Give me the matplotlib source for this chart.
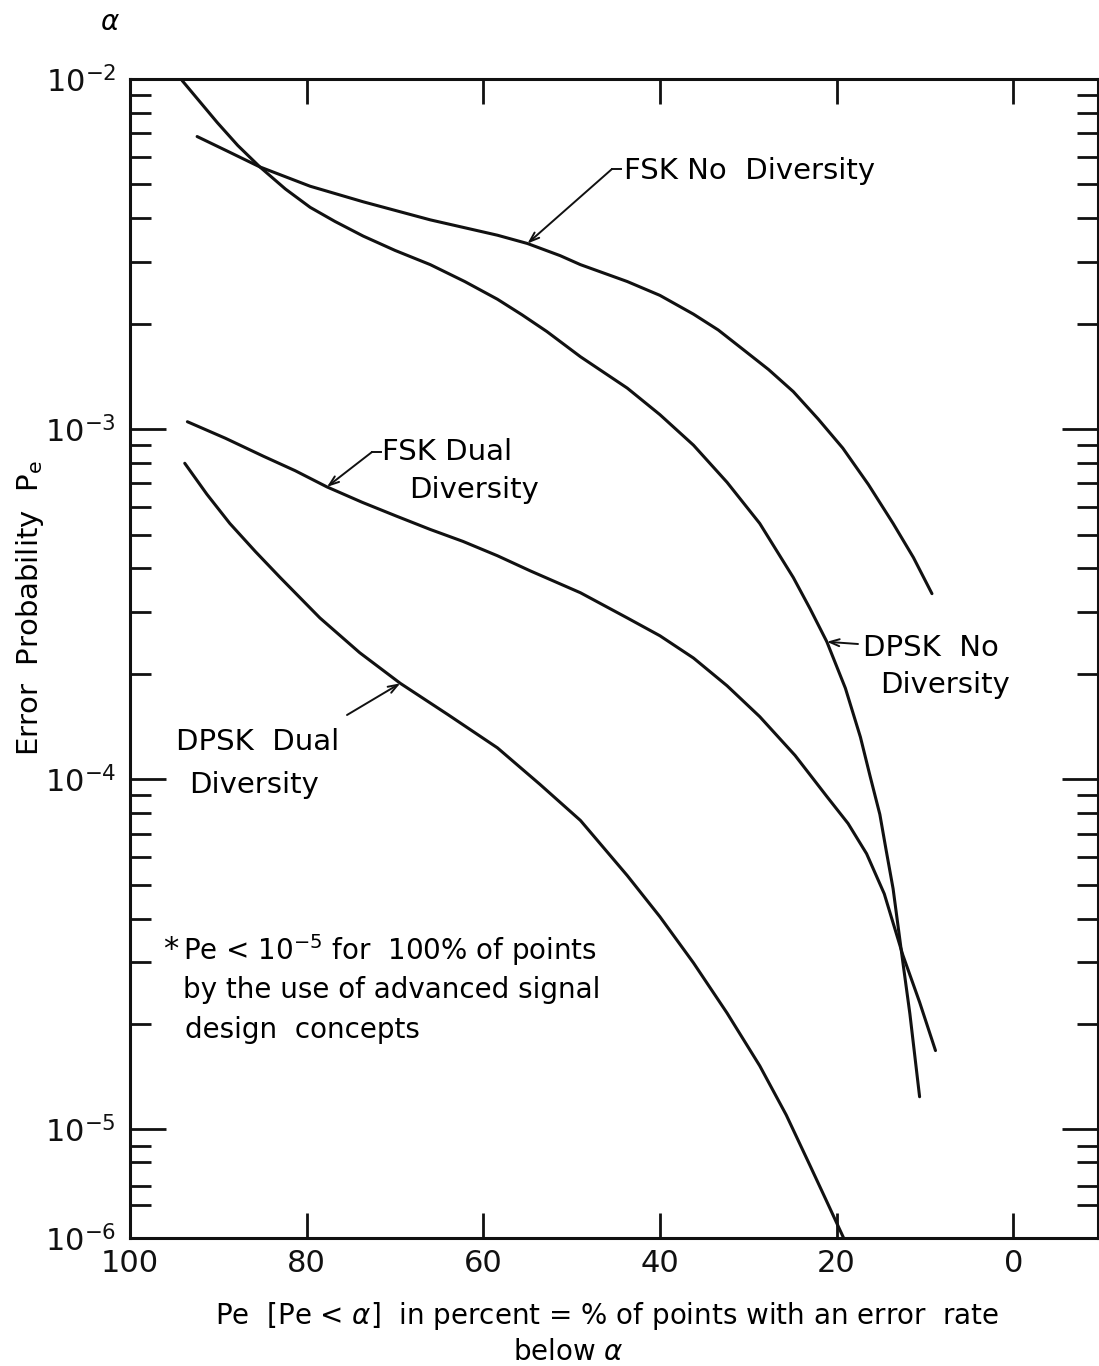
import numpy as np
import matplotlib
matplotlib.use("Agg")
import matplotlib.pyplot as plt
from matplotlib.lines import Line2D

plt.rcParams['font.family'] = ['DejaVu Sans']
plt.rcParams['mathtext.fontset'] = 'dejavusans'

# values: x = percent of points, y = error probability
pct_dpsk_no = [94.1, 90.1, 87.8, 85.3, 82.4, 79.6, 76.8, 73.6, 70.0, 66.0, 62.1,
               58.4, 55.6, 52.8, 49.0, 43.7, 40.0, 36.2, 32.4, 28.7, 24.9, 23.0,
               21.1, 19.0, 17.3, 16.2, 15.1, 14.4, 13.6, 12.5, 11.7, 10.6]
pe_dpsk_no = [9.9e-3, 7.5e-3, 6.46e-3, 5.61e-3, 4.85e-3, 4.30e-3, 3.92e-3, 3.56e-3,
              3.24e-3, 2.95e-3, 2.64e-3, 2.35e-3, 2.12e-3, 1.90e-3, 1.61e-3, 1.31e-3,
              1.10e-3, 9.0e-4, 7.05e-4, 5.38e-4, 3.77e-4, 3.07e-4, 2.47e-4, 1.82e-4,
              1.32e-4, 1.02e-4, 7.94e-5, 6.30e-5, 4.87e-5, 3.01e-5, 2.14e-5, 1.24e-5]

pct_fsk_no = [92.4, 88.9, 85.3, 79.6, 73.6, 66.0, 58.4, 55.0, 51.3, 49.0, 43.7,
              40.0, 36.2, 33.4, 30.6, 27.7, 24.9, 22.1, 19.3, 16.4, 13.6, 11.3, 9.2]
pe_fsk_no = [6.85e-3, 6.21e-3, 5.61e-3, 4.94e-3, 4.46e-3, 3.96e-3, 3.58e-3, 3.39e-3,
             3.13e-3, 2.95e-3, 2.64e-3, 2.41e-3, 2.13e-3, 1.92e-3, 1.69e-3, 1.48e-3,
             1.28e-3, 1.07e-3, 8.83e-4, 6.95e-4, 5.38e-4, 4.30e-4, 3.39e-4]

pct_fsk_dual = [93.5, 89.2, 84.9, 81.3, 77.7, 73.7, 69.8, 66.0, 62.3, 58.4, 54.7,
                49.0, 43.7, 40.0, 36.2, 32.4, 28.7, 24.7, 21.1, 18.7, 16.6, 14.6,
                12.5, 10.6, 8.8]
pe_fsk_dual = [1.05e-3, 9.42e-4, 8.37e-4, 7.61e-4, 6.84e-4, 6.18e-4, 5.64e-4, 5.17e-4,
               4.78e-4, 4.35e-4, 3.94e-4, 3.41e-4, 2.89e-4, 2.57e-4, 2.22e-4, 1.85e-4,
               1.51e-4, 1.17e-4, 8.93e-5, 7.48e-5, 6.13e-5, 4.71e-5, 3.15e-5, 2.31e-5,
               1.68e-5]

pct_dpsk_dual = [93.8, 91.3, 88.7, 85.8, 83.0, 78.5, 74.0, 69.4, 64.0, 58.4, 53.6,
                 49.0, 43.7, 40.0, 36.2, 32.4, 28.7, 25.7, 23.0, 21.2, 19.2]
pe_dpsk_dual = [7.99e-4, 6.52e-4, 5.38e-4, 4.47e-4, 3.77e-4, 2.89e-4, 2.30e-4, 1.88e-4,
                1.53e-4, 1.23e-4, 9.68e-5, 7.63e-5, 5.31e-5, 4.05e-5, 2.99e-5, 2.15e-5,
                1.52e-5, 1.10e-5, 4.64e-6, 2.25e-6, 1.0e-6]

x_ticks = [100, 80, 60, 40, 20, 0]
y_ticks = [1e-6, 1e-5, 1e-4, 1e-3, 1e-2]
y_tick_labels = [r'$10^{-6}$', r'$10^{-5}$', r'$10^{-4}$', r'$10^{-3}$', r'$10^{-2}$']

W, H = 1099, 1366


def fp(px, py):
    # pixel position in the picture -> figure fraction
    return (px / W, 1 - py / H)


# the lowest decade (1e-6..1e-5) is drawn squeezed on the original
K = 0.31


def fwd(v):
    v = np.clip(np.asarray(v, dtype=float), 1e-12, None)
    lv = np.log10(v)
    return np.where(lv >= -5, lv, -5 + (lv + 5) * K)


def inv(t):
    t = np.asarray(t, dtype=float)
    return np.where(t >= -5, 10.0 ** t, 10.0 ** (-5 + (t + 5) / K))


fig = plt.figure(figsize=(W / 100, H / 100), dpi=100)
ax = fig.add_axes([130 / W, 1 - 1238 / H, (1098 - 130) / W, (1238 - 79) / H])
ax.set_yscale('function', functions=(fwd, inv))

lw = 2.2
for xs, ys in [(pct_dpsk_no, pe_dpsk_no), (pct_fsk_no, pe_fsk_no),
               (pct_fsk_dual, pe_fsk_dual), (pct_dpsk_dual, pe_dpsk_dual)]:
    ax.plot(xs, ys, color='#111111', lw=lw, solid_capstyle='round',
            solid_joinstyle='round')

ax.set_xlim(100, -9.6)
ax.set_ylim(1e-6, 1e-2)

ax.set_xticks(x_ticks)
ax.set_xticklabels([str(v) for v in x_ticks], fontsize=22)
ax.set_yticks(y_ticks)
ax.set_yticklabels(y_tick_labels, fontsize=22)

minor = [m * 10.0 ** d for d in (-5, -4, -3) for m in range(2, 10)]
minor += [7e-6, 5e-6, 3e-6, 2e-6]
ax.set_yticks(minor, minor=True)
ax.xaxis.set_minor_locator(matplotlib.ticker.NullLocator())

ax.tick_params(axis='both', which='major', direction='in', top=True, right=True,
               width=2, color='#111111', labelcolor='#111111')
ax.tick_params(axis='y', which='major', length=26, pad=10)
ax.tick_params(axis='y', which='minor', direction='in', right=True, length=15,
               width=2, color='#111111')
ax.tick_params(axis='x', which='major', length=18, pad=8)
for s in ax.spines.values():
    s.set_linewidth(2.2)
    s.set_color('#111111')

# axis titles
fig.text(*fp(110, 22), r'$\alpha$', fontsize=20, ha='center', va='center')
fig.text(*fp(30, 608), r'Error  Probability  P$_\mathrm{e}$', rotation=90,
         fontsize=21, ha='center', va='center')
fig.text(*fp(607, 1316), r'Pe  [Pe < $\alpha$]  in percent = % of points with an error  rate',
         fontsize=20, ha='center', va='center')
fig.text(*fp(568, 1352), r'below $\alpha$', fontsize=20, ha='center', va='center')

# curve labels
tsz = 21
fig.text(*fp(624, 171), 'FSK No  Diversity', fontsize=tsz, ha='left', va='center')
fig.text(*fp(382, 452), 'FSK Dual', fontsize=tsz, ha='left', va='center')
fig.text(*fp(409, 490), 'Diversity', fontsize=tsz, ha='left', va='center')
fig.text(*fp(863, 648), 'DPSK  No', fontsize=tsz, ha='left', va='center')
fig.text(*fp(880, 685), 'Diversity', fontsize=tsz, ha='left', va='center')
fig.text(*fp(176, 742), 'DPSK  Dual', fontsize=tsz, ha='left', va='center')
fig.text(*fp(189, 785), 'Diversity', fontsize=tsz, ha='left', va='center')

arrow = dict(arrowstyle='->,head_length=0.7,head_width=0.25', lw=1.4, color='#111111',
             shrinkA=0, shrinkB=0)
ax.annotate('', xy=(55.0, 3.39e-3), xytext=fp(612, 169), textcoords='figure fraction',
            arrowprops=arrow)
fig.add_artist(Line2D([612 / W, 621 / W], [1 - 169 / H] * 2, lw=1.4, color='#111111'))
ax.annotate('', xy=(77.7, 6.84e-4), xytext=fp(372, 452), textcoords='figure fraction',
            arrowprops=arrow)
fig.add_artist(Line2D([372 / W, 381 / W], [1 - 452 / H] * 2, lw=1.4, color='#111111'))
ax.annotate('', xy=(21.1, 2.47e-4), xytext=fp(858, 644), textcoords='figure fraction',
            arrowprops=arrow)
ax.annotate('', xy=(69.4, 1.88e-4), xytext=fp(347, 715), textcoords='figure fraction',
            arrowprops=arrow)

# footnote
fig.text(*fp(163, 950), r'*', fontsize=22, ha='left', va='center')
fig.text(*fp(183, 950), r'Pe < 10$^{-5}$ for  100% of points', fontsize=20,
         ha='left', va='center')
fig.text(*fp(183, 990), 'by the use of advanced signal', fontsize=20,
         ha='left', va='center')
fig.text(*fp(185, 1030), 'design  concepts', fontsize=20, ha='left', va='center')

fig.savefig('out.png', dpi=100)
